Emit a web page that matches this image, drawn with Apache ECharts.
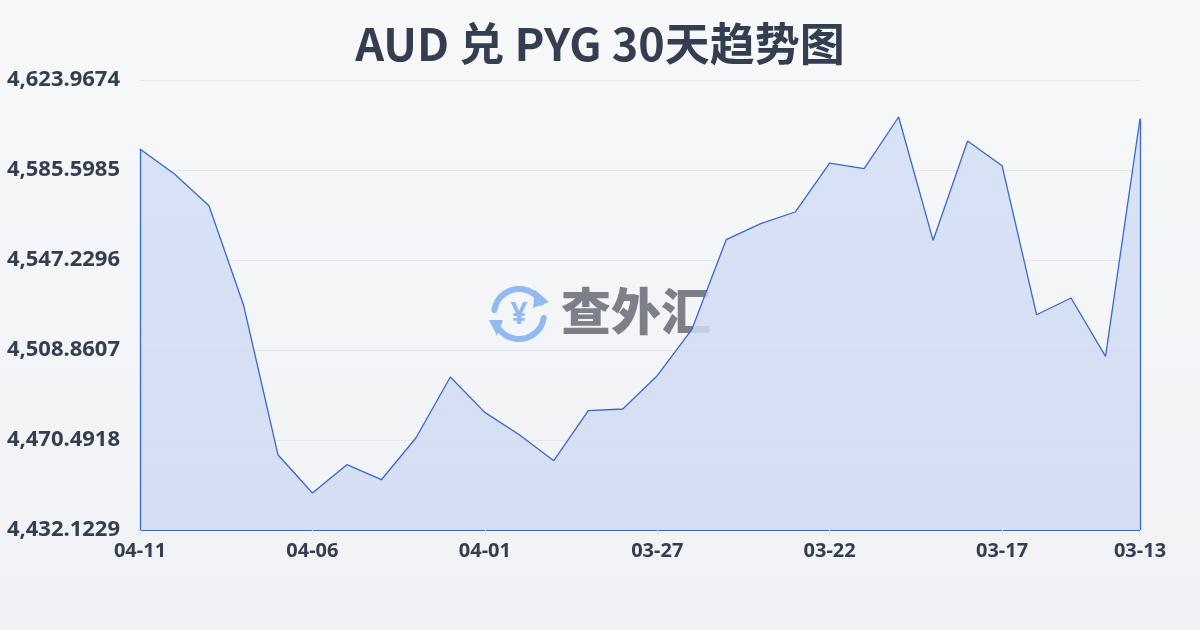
<!DOCTYPE html>
<html>
<head>
<meta charset="utf-8">
<script src="https://cdn.jsdelivr.net/npm/echarts@6/dist/echarts.min.js"></script>
<style>
  html, body { margin: 0; padding: 0; }
  #chart { width: 1200px; height: 630px; }
</style>
</head>
<body>
<div id="chart"></div>
<script>
var chartDom = document.getElementById('chart');
var myChart = echarts.init(chartDom);

// 日期（从新到旧）
var dates = ['04-11', '04-10', '04-09', '04-08', '04-07', '04-06', '04-05', '04-04', '04-03', '04-02',
  '04-01', '03-31', '03-30', '03-29', '03-28', '03-27', '03-26', '03-25', '03-24', '03-23',
  '03-22', '03-21', '03-20', '03-19', '03-18', '03-17', '03-16', '03-15', '03-14', '03-13'];
// 汇率
var rates = [4594.55, 4583.89, 4570.38, 4528.17, 4464.22, 4447.89, 4459.96, 4453.56, 4471.34, 4497.35,
  4482.25, 4472.75, 4461.66, 4482.98, 4483.70, 4497.90, 4517.51, 4555.88, 4562.70, 4567.69,
  4588.57, 4586.14, 4608.19, 4555.58, 4597.95, 4587.42, 4523.90, 4531.02, 4506.13, 4607.46];
var yMin = 4432.1229;
var yMax = 4623.9674;
var yStep = 38.3689;

var lineColor = '#3867d0';
var textColor = '#343e51';

var option = {
  backgroundColor: new echarts.graphic.LinearGradient(0, 0, 0, 1, [
    {offset: 0, color: '#f7f8fa'},
    {offset: 1, color: '#f0f2f5'}
  ]),
  title: {
    text: 'AUD 兑 PYG 30天趋势图',
    left: 'center',
    top: 16,
    textStyle: {
      fontSize: 45,
      fontWeight: 'bold',
      color: textColor,
      fontFamily: 'Noto Sans CJK SC'
    }
  },
  grid: {
    left: 140,
    right: 60,
    top: 80,
    bottom: 100
  },
  xAxis: {
    type: 'category',
    data: dates,
    boundaryGap: false,
    axisLine: {lineStyle: {color: lineColor, width: 1}},
    axisTick: {
      show: true,
      interval: 4,
      length: 6,
      lineStyle: {color: '#e2e5ea'}
    },
    axisLabel: {
      interval: 4,
      showMaxLabel: true,
      margin: 11,
      fontSize: 20,
      fontWeight: 'bold',
      color: textColor,
      fontFamily: 'Noto Sans'
    }
  },
  yAxis: {
    type: 'value',
    min: yMin,
    max: yMax,
    interval: yStep,
    axisLine: {show: false},
    axisTick: {show: false},
    splitLine: {lineStyle: {color: '#e3e6eb', width: 1}},
    axisLabel: {
      margin: 20,
      fontSize: 22,
      fontWeight: 'bold',
      color: textColor,
      fontFamily: 'Noto Sans',
      formatter: function (v) {
        return v.toLocaleString('en-US', {minimumFractionDigits: 4, maximumFractionDigits: 4});
      }
    }
  },
  graphic: [
    // 水印 logo
    {
      type: 'group',
      left: 489,
      top: 286,
      silent: true,
      z: 0,
      children: [
        {type: 'arc', shape: {cx: 30, cy: 30, r: 25, startAngle: Math.PI * 1.05, endAngle: Math.PI * 1.85},
          style: {stroke: '#93b9f3', lineWidth: 6, fill: null, lineCap: 'round'}},
        {type: 'arc', shape: {cx: 30, cy: 30, r: 25, startAngle: Math.PI * 0.05, endAngle: Math.PI * 0.85},
          style: {stroke: '#93b9f3', lineWidth: 6, fill: null, lineCap: 'round'}},
        {type: 'polygon', shape: {points: [[46, 6], [60, 18], [44, 24]]}, style: {fill: '#93b9f3'}},
        {type: 'polygon', shape: {points: [[0, 36], [14, 36], [8, 52]]}, style: {fill: '#93b9f3'}},
        {type: 'text', style: {x: 30, y: 31, text: '¥', fill: '#93b9f3', fontSize: 30, fontWeight: 'bold',
          fontFamily: 'Noto Sans', align: 'center', verticalAlign: 'middle'}}
      ]
    },
    {
      type: 'text',
      left: 561,
      top: 286,
      silent: true,
      z: 0,
      style: {
        text: '查外汇',
        fontSize: 50,
        fontWeight: 900,
        fill: '#7d8089',
        fontFamily: 'Noto Sans CJK SC'
      }
    }
  ],
  series: [
    {
      name: 'AUD/PYG',
      type: 'line',
      data: rates,
      symbol: 'none',
      z: 3,
      lineStyle: {color: lineColor, width: 1.3},
      itemStyle: {color: lineColor},
      areaStyle: {
        opacity: 0.85,
        color: new echarts.graphic.LinearGradient(0, 0, 0, 1, [
          {offset: 0, color: '#d3dff6'},
          {offset: 1, color: '#d0daf2'}
        ])
      },
      markLine: {
        silent: true,
        symbol: ['none', 'none'],
        label: {show: false},
        lineStyle: {color: lineColor, width: 1.3, type: 'solid'},
        data: [
          [{coord: [dates[0], yMin]}, {coord: [dates[0], rates[0]]}],
          [{coord: [dates[dates.length - 1], yMin]}, {coord: [dates[dates.length - 1], rates[rates.length - 1]]}]
        ]
      }
    }
  ]
};

myChart.setOption(option);
</script>
</body>
</html>
